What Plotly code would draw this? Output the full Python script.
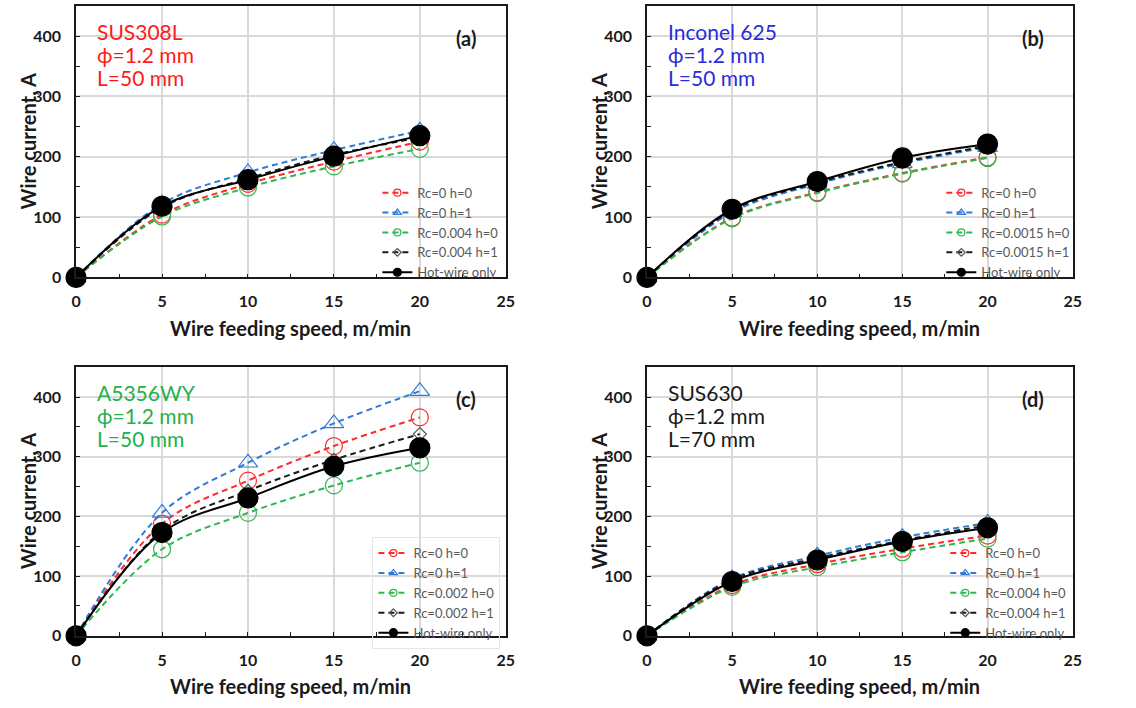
import plotly.graph_objects as go

# Wire feeding speed (m/min)
speed = [0, 5, 10, 15, 20]

# (a) SUS308L, phi=1.2 mm, L=50 mm
sus308l_rc0_h0 = [0, 104, 155, 192, 225]
sus308l_rc0_h1 = [0, 122, 174, 211, 243]
sus308l_rcx_h0 = [0, 101, 149, 184, 213]
sus308l_rcx_h1 = [0, 116, 164, 203, 232]
sus308l_hot = [0, 118, 162, 201, 235]

# (b) Inconel 625, phi=1.2 mm, L=50 mm
in625_rc0_h0 = [0, 99, 141, 173, 199]
in625_rc0_h1 = [0, 108, 155, 189, 216]
in625_rcx_h0 = [0, 98, 140, 172, 198]
in625_rcx_h1 = [0, 111, 157, 191, 218]
in625_hot = [0, 113, 159, 198, 221]

# (c) A5356WY, phi=1.2 mm, L=50 mm
a5356_rc0_h0 = [0, 188, 260, 318, 366]
a5356_rc0_h1 = [0, 206, 290, 356, 410]
a5356_rcx_h0 = [0, 145, 206, 252, 290]
a5356_rcx_h1 = [0, 176, 243, 295, 338]
a5356_hot = [0, 173, 231, 284, 315]

# (d) SUS630, phi=1.2 mm, L=70 mm
sus630_rc0_h0 = [0, 85, 120, 146, 168]
sus630_rc0_h1 = [0, 96, 134, 165, 189]
sus630_rcx_h0 = [0, 82, 115, 140, 163]
sus630_rcx_h1 = [0, 94, 130, 160, 185]
sus630_hot = [0, 91, 127, 158, 181]

rc_values = ["0.004", "0.0015", "0.002", "0.004"]
materials = ["SUS308L", "Inconel 625", "A5356WY", "SUS630"]
lengths = ["50", "50", "50", "70"]
panel_tags = ["(a)", "(b)", "(c)", "(d)"]
material_colors = ["#FF1A1A", "#2B2BD9", "#22B14C", "#1A1A1A"]

x_ticks = [0, 5, 10, 15, 20, 25]
y_ticks = [0, 100, 200, 300, 400]

panels = [
    (sus308l_rc0_h0, sus308l_rc0_h1, sus308l_rcx_h0, sus308l_rcx_h1, sus308l_hot),
    (in625_rc0_h0, in625_rc0_h1, in625_rcx_h0, in625_rcx_h1, in625_hot),
    (a5356_rc0_h0, a5356_rc0_h1, a5356_rcx_h0, a5356_rcx_h1, a5356_hot),
    (sus630_rc0_h0, sus630_rc0_h1, sus630_rcx_h0, sus630_rcx_h1, sus630_hot),
]

W, H = 1136, 708
# plot-area boxes in pixels: left, right, top, bottom
boxes = [(72, 507, 6, 281), (650, 1081, 6, 281),
         (72, 507, 372, 644), (650, 1081, 372, 644)]
legend_dx = [304, 297, 300, 301]
legend_dy = [173, 173, 172, 172]

RED = "#FF2A2A"
BLUE = "#2F7BD6"
GREEN = "#2DB84D"
FONT = "Lato"
DASH = "6px,4px"

fig = go.Figure()

for i, (series, box) in enumerate(zip(panels, boxes)):
    n = i + 1
    xa = "x" if n == 1 else f"x{n}"
    ya = "y" if n == 1 else f"y{n}"
    leg = "legend" if n == 1 else f"legend{n}"
    r0h0, r0h1, rxh0, rxh1, hot = series
    rc = rc_values[i]
    # values, name, line colour, dash, symbol, plot size, legend size, marker colour
    styles = [
        (r0h0, "Rc=0 h=0", RED, DASH, "circle-open", 17, 7, RED),
        (r0h1, "Rc=0 h=1", BLUE, DASH, "triangle-up-open", 17, 7, BLUE),
        (rxh0, f"Rc={rc} h=0", GREEN, DASH, "circle-open", 17, 7, GREEN),
        (rxh1, f"Rc={rc} h=1", "#1A1A1A", DASH, "diamond-open", 10, 6, "#555555"),
        (hot, "Hot-wire only", "#000000", "solid", "circle", 20, 8, "#000000"),
    ]
    for yvals, name, lc, dash, sym, ms, lms, mc in styles:
        fig.add_trace(go.Scatter(
            x=speed, y=yvals, name=name, mode="lines+markers",
            line=dict(color=lc, width=2, dash=dash, shape="spline"),
            marker=dict(symbol=sym, size=ms, color=mc,
                        line=dict(width=1.2, color=mc)),
            xaxis=xa, yaxis=ya, showlegend=False, cliponaxis=False,
        ))
    # legend entries with small symbols
    for yvals, name, lc, dash, sym, ms, lms, mc in styles:
        fig.add_trace(go.Scatter(
            x=[None], y=[None], name=name, mode="lines+markers",
            line=dict(color=lc, width=2, dash=dash),
            marker=dict(symbol=sym, size=lms, color=mc,
                        line=dict(width=1.2, color=mc)),
            xaxis=xa, yaxis=ya, legend=leg, showlegend=True,
        ))

    l, r, t, b = box
    dom_x = [l / W, r / W]
    dom_y = [1 - b / H, 1 - t / H]
    axis_common = dict(
        showline=True, mirror=True, linecolor="#1A1A1A", linewidth=1.5,
        showgrid=True, gridcolor="#D9D9D9", gridwidth=1.5, zeroline=False,
        ticks="inside", ticklen=4, tickcolor="#1A1A1A",
        tickfont=dict(family=FONT, size=16, color="#1A1A1A", weight="bold"),
    )
    fig.layout[f"xaxis{'' if n == 1 else n}"] = dict(
        domain=dom_x, range=[0, 25], tickvals=x_ticks, anchor=ya,
        ticklabelstandoff=9,
        minor=dict(ticks="inside", ticklen=4, dtick=2.5, tick0=0,
                   tickcolor="#1A1A1A", showgrid=False),
        **axis_common)
    fig.layout[f"yaxis{'' if n == 1 else n}"] = dict(
        domain=dom_y, range=[0, 450], tickvals=y_ticks, anchor=xa,
        ticklabelstandoff=10,
        minor=dict(ticks="inside", ticklen=4, dtick=50, tick0=0,
                   tickcolor="#1A1A1A", showgrid=False),
        **axis_common)

    fig.layout[leg] = dict(
        x=(l + legend_dx[i]) / W, y=1 - (t + legend_dy[i]) / H,
        xanchor="left", yanchor="top",
        bgcolor="rgba(0,0,0,0)",
        bordercolor="#E6E6E6" if n == 3 else "rgba(0,0,0,0)", borderwidth=1,
        font=dict(family=FONT, size=13, color="#595959"),
        itemsizing="trace", tracegroupgap=0, itemwidth=30,
    )

    # material label, one annotation per line
    label_lines = [materials[i], "ϕ=1.2 mm", f"L={lengths[i]} mm"]
    for k, line_text in enumerate(label_lines):
        fig.add_annotation(
            xref="paper", yref="paper", x=(l + 19) / W, y=1 - (t + 26 + 23 * k) / H,
            xanchor="left", yanchor="middle", align="left", showarrow=False,
            text=line_text,
            font=dict(family=FONT, size=21, color=material_colors[i]),
        )
    # panel tag
    fig.add_annotation(
        xref="paper", yref="paper", x=(r - 40) / W, y=1 - (t + 32) / H,
        xanchor="center", yanchor="middle", showarrow=False,
        text=panel_tags[i],
        font=dict(family=FONT, size=20, color="#1A1A1A", weight="bold"),
    )
    # axis titles
    fig.add_annotation(
        xref="paper", yref="paper", x=(l + r) / 2 / W, y=1 - (b + 51) / H,
        xanchor="center", yanchor="middle", showarrow=False,
        text="Wire feeding speed, m/min",
        font=dict(family=FONT, size=20, color="#1A1A1A", weight="bold"),
    )
    fig.add_annotation(
        xref="paper", yref="paper", x=(l - 49) / W, y=1 - (t + b) / 2 / H,
        xanchor="center", yanchor="middle", showarrow=False, textangle=-90,
        text="Wire current, A",
        font=dict(family=FONT, size=20, color="#1A1A1A", weight="bold"),
    )

fig.update_layout(
    width=W, height=H, margin=dict(l=0, r=0, t=0, b=0),
    paper_bgcolor="white", plot_bgcolor="white",
)

fig.write_html("out.html")
